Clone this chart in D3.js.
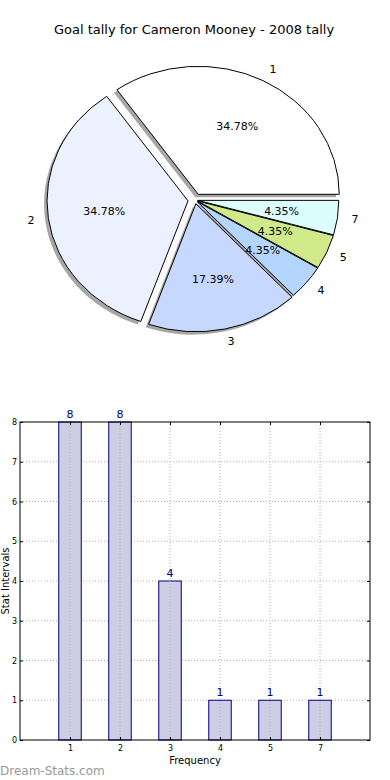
<!DOCTYPE html>
<meta charset="utf-8">
<style>
body { margin: 0; background: #fff; }
text { font-family: "DejaVu Sans", sans-serif; }
.grid line { stroke: #b0b0b0; stroke-dasharray: 1,2; stroke-width: 1; }
</style>
<svg width="390" height="780"></svg>
<script src="https://cdn.jsdelivr.net/npm/d3@7"></script>
<script>

var title = "Goal tally for Cameron Mooney - 2008 tally";
var categories = ["1", "2", "3", "4", "5", "7"];
var counts = [8, 8, 4, 1, 1, 1];
var sliceColors = ["#ffffff", "#ebf1fe", "#c6d8fe", "#b4d6fe", "#cfe98b", "#dcfefe"];
var explode = [0.05, 0.05, 0.03, 0.02, 0.02, 0.02];
var yTicks = [0, 1, 2, 3, 4, 5, 6, 7, 8];

var svg = d3.select("svg");

svg.append("rect").attr("width", 390).attr("height", 780).attr("fill", "#fff");

svg.append("text")
    .attr("x", 194).attr("y", 34)
    .attr("text-anchor", "middle")
    .style("font-size", "13px")
    .text(title);

// ---- pie ----
var cx = 195, cy = 200, r = 141, ry = 128;
var sy = ry / r;
var total = d3.sum(counts);

var pie = d3.pie().sort(null).startAngle(Math.PI / 2).endAngle(Math.PI / 2 - 2 * Math.PI);
var arcs = pie(counts);
var arc = d3.arc().innerRadius(0).outerRadius(r);

function offset(d, i, k) {
  var a = (d.startAngle + d.endAngle) / 2;
  return [Math.sin(a) * r * k, -Math.cos(a) * r * k];
}

var pieG = svg.append("g").attr("transform", "translate(" + cx + "," + cy + ")");

// shadow
pieG.selectAll(".shadow")
    .data(arcs)
    .enter()
    .append("path")
    .attr("class", "shadow")
    .attr("transform", function (d, i) {
      var o = offset(d, i, explode[i]);
      return "translate(" + (o[0] - 3) + "," + (o[1] * sy + 3) + ") scale(1," + sy + ")";
    })
    .attr("d", arc)
    .attr("fill", "#000")
    .attr("fill-opacity", 0.35);

pieG.selectAll(".slice")
    .data(arcs)
    .enter()
    .append("path")
    .attr("class", "slice")
    .attr("transform", function (d, i) {
      var o = offset(d, i, explode[i]);
      return "translate(" + o[0] + "," + (o[1] * sy) + ") scale(1," + sy + ")";
    })
    .attr("d", arc)
    .attr("fill", function (d, i) { return sliceColors[i]; })
    .attr("stroke", "#000")
    .attr("stroke-width", 1)
    .attr("vector-effect", "non-scaling-stroke");

// percent labels
pieG.selectAll(".pct")
    .data(arcs)
    .enter()
    .append("text")
    .attr("class", "pct")
    .attr("x", function (d, i) { return offset(d, i, explode[i] + 0.6)[0]; })
    .attr("y", function (d, i) { return offset(d, i, explode[i] + 0.6)[1] * sy; })
    .attr("dy", "0.35em")
    .attr("text-anchor", "middle")
    .style("font-size", "11px")
    .text(function (d) { return (d.value / total * 100).toFixed(2) + "%"; });

// category labels
pieG.selectAll(".lbl")
    .data(arcs)
    .enter()
    .append("text")
    .attr("class", "lbl")
    .attr("x", function (d, i) { return offset(d, i, explode[i] + 1.1)[0]; })
    .attr("y", function (d, i) { return offset(d, i, explode[i] + 1.1)[1] * sy; })
    .attr("dy", "0.35em")
    .attr("text-anchor", function (d, i) { return offset(d, i, 1)[0] > 0 ? "start" : "end"; })
    .style("font-size", "11px")
    .text(function (d, i) { return categories[i]; });

// ---- bars ----
var plotLeft = 20, plotRight = 370, plotTop = 422, plotBottom = 740;
var x = d3.scaleLinear().domain([0, categories.length + 1]).range([plotLeft, plotRight]);
var y = d3.scaleLinear().domain([0, 8]).range([plotBottom, plotTop]);
var bw = x(0.45) - x(0);

var grid = svg.append("g").attr("class", "grid");
grid.selectAll(".h")
    .data(yTicks.slice(1, -1))
    .enter().append("line")
    .attr("x1", plotLeft).attr("x2", plotRight)
    .attr("y1", function (d) { return y(d); })
    .attr("y2", function (d) { return y(d); });

svg.selectAll(".bar")
    .data(counts)
    .enter()
    .append("rect")
    .attr("class", "bar")
    .attr("x", function (d, i) { return x(i + 1) - bw / 2; })
    .attr("y", function (d) { return y(d); })
    .attr("width", bw)
    .attr("height", function (d) { return plotBottom - y(d); })
    .attr("fill", "#cdcde3")
    .attr("stroke", "#000080")
    .attr("stroke-width", 1);

var grid2 = svg.append("g").attr("class", "grid");
grid2.selectAll(".v")
    .data(categories)
    .enter().append("line")
    .attr("y1", plotTop).attr("y2", plotBottom)
    .attr("x1", function (d, i) { return x(i + 1); })
    .attr("x2", function (d, i) { return x(i + 1); });

svg.selectAll(".val")
    .data(counts)
    .enter()
    .append("text")
    .attr("class", "val")
    .attr("x", function (d, i) { return x(i + 1); })
    .attr("y", function (d) { return y(d) - 4; })
    .attr("text-anchor", "middle")
    .attr("fill", "#000080")
    .style("font-size", "11px")
    .text(function (d) { return d; });

svg.append("rect")
    .attr("x", plotLeft).attr("y", plotTop)
    .attr("width", plotRight - plotLeft).attr("height", plotBottom - plotTop)
    .attr("fill", "none").attr("stroke", "#000").attr("stroke-width", 1);

// y axis
var yAxis = svg.append("g").attr("transform", "translate(" + plotLeft + ",0)")
    .call(d3.axisLeft(y).tickValues(yTicks).tickSize(-3).tickPadding(3));
yAxis.select(".domain").remove();
yAxis.selectAll("text").style("font-size", "8px").attr("font-family", "DejaVu Sans");
yAxis.selectAll("line").attr("stroke", "#000");

svg.append("g").attr("transform", "translate(" + plotRight + ",0)")
    .call(d3.axisRight(y).tickValues(yTicks).tickSize(-3).tickFormat(""))
    .select(".domain").remove();

// x axis
var xAxis = svg.append("g").attr("transform", "translate(0," + plotBottom + ")")
    .call(d3.axisBottom(x).tickValues(d3.range(1, categories.length + 1))
      .tickFormat(function (d) { return categories[d - 1]; })
      .tickSize(-3).tickPadding(5));
xAxis.select(".domain").remove();
xAxis.selectAll("text").style("font-size", "8px").attr("font-family", "DejaVu Sans");

svg.append("g").attr("transform", "translate(0," + plotTop + ")")
    .call(d3.axisTop(x).tickValues(d3.range(1, categories.length + 1)).tickSize(-3).tickFormat(""))
    .select(".domain").remove();

svg.append("text")
    .attr("x", (plotLeft + plotRight) / 2).attr("y", 764)
    .attr("text-anchor", "middle")
    .style("font-size", "10px")
    .text("Frequency");

svg.append("text")
    .attr("transform", "translate(9,581) rotate(-90)")
    .attr("text-anchor", "middle")
    .style("font-size", "10px")
    .text("Stat Intervals");

svg.append("text")
    .attr("x", 0).attr("y", 775)
    .attr("fill", "#999")
    .style("font-size", "12px")
    .text("Dream-Stats.com");

</script>
